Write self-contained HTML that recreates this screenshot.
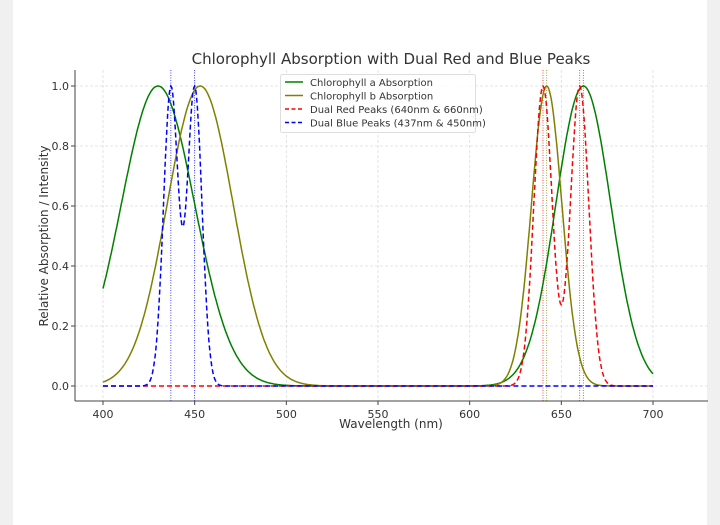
<!DOCTYPE html>
<html><head><style>
body{margin:0;background:#f0f0f0;}
svg{display:block;font-family:"DejaVu Sans","Liberation Sans",sans-serif;}
</style></head><body>
<svg id="s" width="720" height="525" viewBox="0 0 720 525">
<rect x="0" y="0" width="720" height="525" fill="#f0f0f0"/>
<rect x="13" y="0" width="694" height="525" fill="#fff"/>
<g id="grid"></g>
<g id="curves"></g>
<line x1="75" y1="70" x2="75" y2="401" stroke="#444" stroke-width="1"/>
<line x1="75" y1="401" x2="708" y2="401" stroke="#444" stroke-width="1"/>
<g id="ticks" font-size="11" fill="#333"></g>
<text x="391" y="64" font-size="15" text-anchor="middle" fill="#333">Chlorophyll Absorption with Dual Red and Blue Peaks</text>
<text x="391" y="428" font-size="12" text-anchor="middle" fill="#333">Wavelength (nm)</text>
<text transform="translate(48,236) rotate(-90)" font-size="12" text-anchor="middle" fill="#333">Relative Absorption / Intensity</text>
<g>
<rect x="280.5" y="74.5" width="195" height="58" fill="#fff" fill-opacity="0.85" stroke="#ddd" rx="2"/>
<line x1="285" y1="82" x2="303" y2="82" stroke="green" stroke-width="1.5"/>
<line x1="285" y1="95.5" x2="303" y2="95.5" stroke="olive" stroke-width="1.5"/>
<line x1="285" y1="109" x2="303" y2="109" stroke="red" stroke-width="1.5" stroke-dasharray="4,2.5"/>
<line x1="285" y1="122.5" x2="303" y2="122.5" stroke="blue" stroke-width="1.5" stroke-dasharray="4,2.5"/>
<g font-size="10" fill="#333">
<text x="310" y="86">Chlorophyll a Absorption</text>
<text x="310" y="99.5">Chlorophyll b Absorption</text>
<text x="310" y="113">Dual Red Peaks (640nm &amp; 660nm)</text>
<text x="310" y="126.5">Dual Blue Peaks (437nm &amp; 450nm)</text>
</g></g>
</svg>
<script>
const X=w=>103+(w-400)*550/300, Y=v=>386-v*300;
const NS="http://www.w3.org/2000/svg";
function el(p,t,a,txt){const e=document.createElementNS(NS,t);for(const k in a)e.setAttribute(k,a[k]);if(txt!=null)e.textContent=txt;document.getElementById(p).appendChild(e);return e;}
for(let w=400;w<=700;w+=50){el("grid","line",{x1:X(w),x2:X(w),y1:70,y2:401,stroke:"#ddd","stroke-dasharray":"3,2","stroke-width":0.8});
el("ticks","line",{x1:X(w),x2:X(w),y1:401,y2:405,stroke:"#444"});el("ticks","text",{x:X(w),y:418,"text-anchor":"middle"},w);}
for(let i=0;i<=5;i++){const v=i*0.2;el("grid","line",{x1:75,x2:708,y1:Y(v),y2:Y(v),stroke:"#ddd","stroke-dasharray":"3,2","stroke-width":0.8});
el("ticks","line",{x1:71,x2:75,y1:Y(v),y2:Y(v),stroke:"#444"});el("ticks","text",{x:69,y:Y(v)+4,"text-anchor":"end"},v.toFixed(1));}
const g=(w,m,s)=>Math.exp(-((w-m)**2)/(2*s*s));
function path(f,col,dash){let d="";let mx=0;for(let w=400;w<=700;w+=0.5)mx=Math.max(mx,f(w));
for(let w=400;w<=700;w+=0.5)d+=(d?"L":"M")+X(w).toFixed(1)+","+Y(f(w)/mx).toFixed(1);
el("curves","path",{d:d,fill:"none",stroke:col,"stroke-width":1.5,"stroke-dasharray":dash||"none"});}
[[437,"blue"],[450,"blue"],[640,"red"],[660,"red"],[642,"olive"],[662,"green"]].forEach(([w,c])=>el("curves","line",{x1:X(w),x2:X(w),y1:70,y2:401,stroke:c,"stroke-width":0.9,"stroke-dasharray":"1,1.5","stroke-opacity":0.8}));
path(w=>g(w,430,20)+g(w,662,15),"green");
path(w=>g(w,453,18)+g(w,642,8.3),"olive");
path(w=>g(w,640,5)+g(w,660,5),"red","5,3");
path(w=>g(w,437,4)+g(w,450,4),"blue","5,3");
</script>
</body></html>
